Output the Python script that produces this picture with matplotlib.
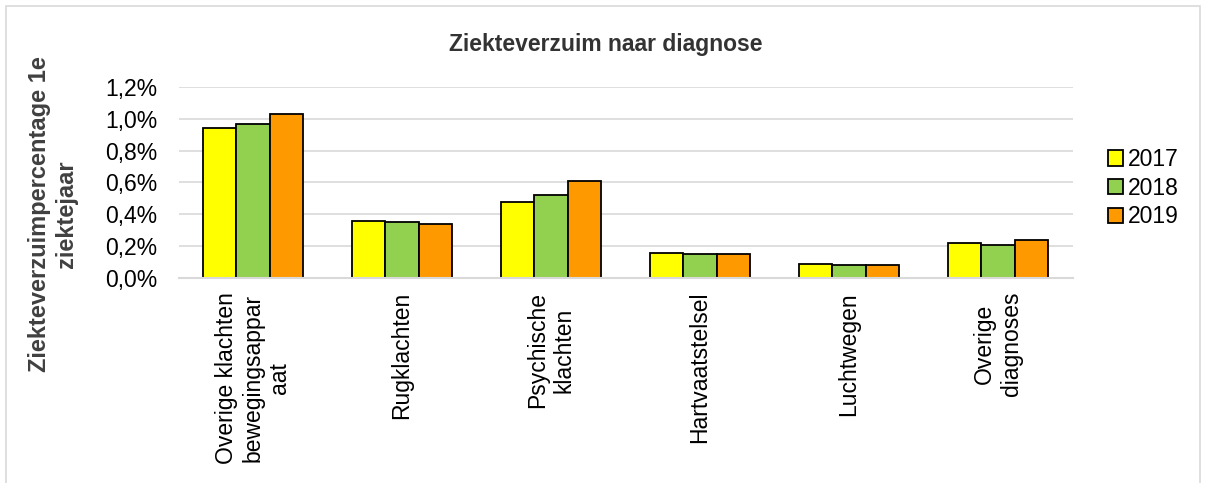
import numpy as np
import matplotlib
matplotlib.use('Agg')
import matplotlib.pyplot as plt
import matplotlib.ticker as mticker
from matplotlib.patches import Rectangle

plt.rcParams['font.family'] = ['Liberation Sans', 'DejaVu Sans']

categories = ['Overige klachten\nbewegingsappar\naat', 'Rugklachten',
              'Psychische\nklachten', 'Hartvaatstelsel', 'Luchtwegen',
              'Overige\ndiagnoses']
years = ['2017', '2018', '2019']
vals_2017 = [0.94, 0.36, 0.48, 0.16, 0.09, 0.22]
vals_2018 = [0.97, 0.35, 0.52, 0.15, 0.08, 0.21]
vals_2019 = [1.03, 0.34, 0.61, 0.15, 0.08, 0.24]
colors = ['#FFFF00', '#92D050', '#FF9900']

W, H = 1206, 483
fig = plt.figure(figsize=(W / 100, H / 100), dpi=100)
# outer chart border
fig.patches.append(Rectangle((6 / W, -0.01), 1194 / W, 1 - 6 / H + 0.01,
                             transform=fig.transFigure, fill=False,
                             edgecolor='#d9d9d9', linewidth=1.2))

ax = fig.add_axes([178.5 / W, 1 - 278 / H, 894 / W, 191 / H])

x = np.arange(len(categories))
w = 0.223
for i, (vals, c, lab) in enumerate(zip([vals_2017, vals_2018, vals_2019], colors, years)):
    ax.bar(x + (i - 1) * w, vals, w, color=c, edgecolor='black', linewidth=1.3,
           label=lab, zorder=3)

ax.set_xlim(-0.5, len(categories) - 0.5)
ax.set_ylim(0, 1.2)
ax.yaxis.set_major_locator(mticker.MultipleLocator(0.2))
ax.yaxis.set_major_formatter(mticker.FuncFormatter(lambda v, p: f'{v:.1f}%'.replace('.', ',')))
ax.grid(axis='y', color='#d9d9d9', linewidth=1.2, zorder=0)
for s in ['top', 'right', 'left']:
    ax.spines[s].set_visible(False)
ax.spines['bottom'].set_color('#d9d9d9')
ax.spines['bottom'].set_linewidth(1.5)
ax.spines['bottom'].set_zorder(4)
ax.tick_params(axis='both', length=0, labelsize=16.5)
ax.tick_params(axis='y', pad=15)
ax.set_xticks(x)
ax.set_xticklabels(categories, rotation=90, va='top', ha='center',
                   multialignment='center', linespacing=1.2)
ax.tick_params(axis='x', pad=10)

fig.text(605.5 / W, 1 - 45 / H, 'Ziekteverzuim naar diagnose', fontsize=16.5,
         fontweight='bold', color='#333333', ha='center', va='center')
fig.text(53 / W, 1 - 214 / H, 'Ziekteverzuimpercentage 1e\nziektejaar',
         rotation=90, ha='center', va='center', fontsize=17, fontweight='bold',
         color='#404040', multialignment='center', linespacing=1.25)

ax.legend(loc='upper left', bbox_to_anchor=(1108 / W, 1 - 148 / H),
          bbox_transform=fig.transFigure, frameon=False,
          fontsize=16.5, handlelength=0.65, handleheight=0.65, handletextpad=0.2,
          labelspacing=0.25, borderpad=0, borderaxespad=0)

fig.savefig('out.png', dpi=100)
